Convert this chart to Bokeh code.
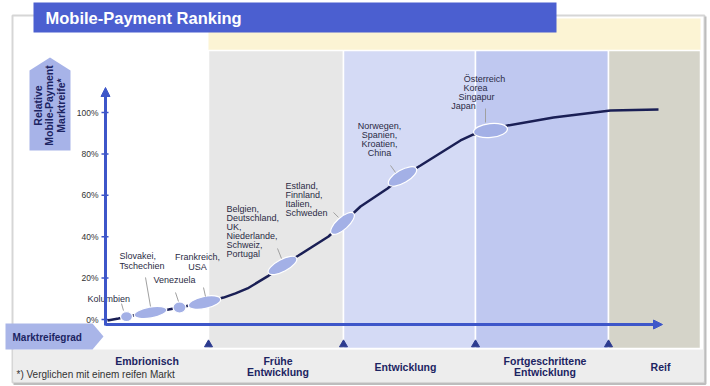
import math
from bokeh.plotting import figure
from bokeh.models import Range1d, Arrow, NormalHead
from bokeh.core.properties import value
from bokeh.embed import file_html
from bokeh.resources import INLINE

# ---------------- data ----------------
title = "Mobile-Payment Ranking"
y_title_lines = ["Relative", "Mobile-Payment", "Marktreife*"]
x_title = "Marktreifegrad"
footnote = "*) Verglichen mit einem reifen Markt"

y_ticks = [0, 20, 40, 60, 80, 100]
y_tick_labels = ["0%", "20%", "40%", "60%", "80%", "100%"]

stage_names = [["Embrionisch"], ["Frühe", "Entwicklung"], ["Entwicklung"],
               ["Fortgeschrittene", "Entwicklung"], ["Reif"]]
stage_bounds = [0, 103, 238, 370, 503, 595]          # maturity index

curve_maturity = [2, 13, 21, 45, 63, 74, 99, 118, 130, 142, 162, 177, 193, 223, 237,
                  255, 282, 297, 315, 355, 368, 385, 402, 448, 505, 553]
curve_adoption = [-0.5, 0.5, 1.4, 3.4, 4.8, 5.8, 8.2, 10.6, 12.6, 15.0, 20.8, 26.1, 30.9,
                  40.1, 46.4, 54.6, 63.3, 69.1, 74.4, 86.5, 89.4, 91.3, 93.7, 97.6,
                  101.0, 101.4]

cluster_maturity = [21, 45, 74, 99, 177, 237, 297, 385]
cluster_adoption = [1.4, 3.4, 5.8, 8.2, 26.1, 46.4, 69.1, 91.3]
cluster_labels = [
    ["Kolumbien"],
    ["Slovakei,", "Tschechien"],
    ["Venezuela"],
    ["Frankreich,", "USA"],
    ["Belgien,", "Deutschland,", "UK,", "Niederlande,", "Schweiz,", "Portugal"],
    ["Estland,", "Finnland,", "Italien,", "Schweden"],
    ["Norwegen,", "Spanien,", "Kroatien,", "China"],
    ["Österreich", "Korea", "Singapur", "Japan"],
]

# ---------------- layout / style ----------------
W, H = 710, 386
PXY = 2.07            # pixels per percent
Y0 = 319              # pixel row of 0 %
X0 = 105              # pixel column of the y axis

def X(px):
    return px - X0

def Y(py):
    return (Y0 - py) / PXY

FONT = value("Liberation Sans")
NAVY = "#1c2462"
AXIS = "#3d56c9"
CURVE = "#1a1f55"
BUBBLE = "#a3b0e6"
LABEL = "#2b2b45"

p = figure(width=W, height=H, x_range=Range1d(X(0), X(W)),
           y_range=Range1d(Y(H), Y(0)), output_backend="svg",
           toolbar_location=None, x_axis_location=None, y_axis_location=None,
           min_border=0, outline_line_color=None, background_fill_color="white",
           border_fill_color="white")
p.grid.visible = False

# outer frame + shadow
p.quad(left=[X(12)], right=[X(704)], bottom=[Y(382)], top=[Y(15)],
       fill_color="white", line_color="#d6d6d6", line_width=2)
p.line(x=[X(705), X(705), X(13)], y=[Y(16), Y(383.5), Y(383.5)],
       line_color="#bdbdbd", line_width=2)

# cream band
p.quad(left=[stage_bounds[1]], right=[stage_bounds[5]], bottom=[Y(50)], top=[Y(18)],
       fill_color="#fcf4d4", line_color=None)
# bottom strip
p.quad(left=[X(13)], right=[X(703)], bottom=[Y(381)], top=[Y(349)],
       fill_color="#ededed", line_color=None)

# stage panels
panel_colors = ["#e7e7e7", "#d4daf5", "#bfc8f0", "#d5d4c9"]
p.quad(left=stage_bounds[1:5], right=stage_bounds[2:6],
       bottom=[Y(348)] * 4, top=[Y(50)] * 4,
       fill_color=panel_colors, line_color="white", line_width=1.5)

# title banner
p.quad(left=[X(33)], right=[X(556)], bottom=[Y(32)], top=[Y(2)],
       fill_color="#4b5fd0", line_color=None)
p.text(x=[X(45)], y=[Y(17)], text=[title], text_font=FONT, text_font_style="bold",
       text_font_size="16.5px", text_color="white", text_baseline="middle",
       text_align="left")

# y title arrow box
p.patch(x=[X(29), X(49.5), X(70), X(70), X(29)],
        y=[Y(70), Y(57), Y(70), Y(150), Y(150)], fill_color="#a7b3e8", line_color=None)
p.text(x=[X(37), X(48.5), X(60)], y=[Y(105)] * 3, text=y_title_lines,
       angle=math.pi / 2, text_font=FONT, text_font_style="bold",
       text_font_size="10.5px", text_color=NAVY, text_align="center",
       text_baseline="middle")

# x title arrow box
p.patch(x=[X(5), X(92), X(103), X(92), X(5)],
        y=[Y(323), Y(323), Y(336), Y(349), Y(349)], fill_color="#a9b5e8", line_color=None)
p.text(x=[X(12)], y=[Y(337)], text=[x_title], text_font=FONT, text_font_style="bold",
       text_font_size="10px", text_color=NAVY, text_baseline="middle", text_align="left")

# axes
p.add_layout(Arrow(end=NormalHead(size=9, fill_color=AXIS, line_color=AXIS),
                   x_start=0, y_start=Y(324), x_end=X(662), y_end=Y(324),
                   line_color=AXIS, line_width=3))
p.add_layout(Arrow(end=NormalHead(size=9, fill_color=AXIS, line_color=AXIS),
                   x_start=0, y_start=Y(325), x_end=0, y_end=Y(87),
                   line_color=AXIS, line_width=3))
p.segment(x0=[X(101)] * len(y_ticks), x1=[X(108)] * len(y_ticks),
          y0=y_ticks, y1=y_ticks, line_color=AXIS, line_width=1.5)
p.text(x=[X(98)] * len(y_ticks), y=y_ticks, text=y_tick_labels, text_font=FONT,
       text_font_size="8.5px", text_color="#333333", text_align="right",
       text_baseline="middle")

# stage markers
p.scatter(x=stage_bounds[1:5], y=[Y(344)] * 4, marker="triangle", size=8,
          fill_color="#2b3a8f", line_color="#2b3a8f")

# curve
p.line(x=curve_maturity, y=curve_adoption, line_color=CURVE, line_width=2.5)

# bubbles
bw = [12, 33, 13, 33, 32, 30, 32, 34]
bh = [10, 11, 11, 12, 12, 12, 13, 14]
ba = [0, 10, 0, 12, 28, 42, 30, 6]
p.ellipse(x=cluster_maturity, y=cluster_adoption, width=bw, height=bh,
          angle=[math.radians(a) for a in ba], width_units="screen",
          height_units="screen", fill_color=BUBBLE, line_color="white", line_width=1.2)

# leader lines (pixel offsets from bubble centre)
leaders = [(-5, -13, -3, -6), (-5, -35, 0, -6), (-4, -15, -1, -6), (-1, -15, 1, -6),
           (-5, -17, -1, -7), (-9, -11, -4, -6), (-12, -11, -7, -4), (-5, -22, -5, -8)]
lx0, ly0, lx1, ly1 = [], [], [], []
for cx, cy, (a, b, c, d) in zip(cluster_maturity, cluster_adoption, leaders):
    lx0.append(cx + a); ly0.append(cy - b / PXY)
    lx1.append(cx + c); ly1.append(cy - d / PXY)
p.segment(x0=lx0, y0=ly0, x1=lx1, y1=ly1, line_color="#a0a0a0", line_width=1)

# cluster labels
label_layout = [
    dict(dx=[-39], dy=-18, align="left", lh=10),
    dict(dx=[-31, -31], dy=-56, align="left", lh=10),
    dict(dx=[-26], dy=-27, align="left", lh=10),
    dict(dx=[-7, -7], dy=-46, align="center", lh=10),
    dict(dx=[-56] * 6, dy=-56, align="left", lh=9),
    dict(dx=[-57] * 4, dy=-37, align="left", lh=9),
    dict(dx=[-23] * 4, dy=-50, align="center", lh=9),
    dict(dx=[-6, -15, -14, -27], dy=-52, align="center", lh=9),
]
for cx, cy, lines, lay in zip(cluster_maturity, cluster_adoption, cluster_labels, label_layout):
    xs = [cx + dx for dx in lay["dx"]]
    ys = [cy - (lay["dy"] + i * lay["lh"]) / PXY for i in range(len(lines))]
    p.text(x=xs, y=ys, text=lines, text_font=FONT, text_font_size="9px",
           text_color=LABEL, text_align=lay["align"], text_baseline="middle")

# stage labels
stage_dx = [-10, 2, -4, 3, 6]
stage_y = [[360], [360, 371], [366], [360, 371], [366]]
for i, lines in enumerate(stage_names):
    mid = (stage_bounds[i] + stage_bounds[i + 1]) / 2 + stage_dx[i]
    p.text(x=[mid] * len(lines), y=[Y(v) for v in stage_y[i]], text=lines,
           text_font=FONT, text_font_style="bold", text_font_size="10.5px",
           text_color=NAVY, text_align="center", text_baseline="middle")

p.text(x=[X(16)], y=[Y(374)], text=[footnote], text_font=FONT, text_font_size="10px",
       text_color="#333333", text_align="left", text_baseline="middle")

open("out.html", "w").write(file_html(p, INLINE))
